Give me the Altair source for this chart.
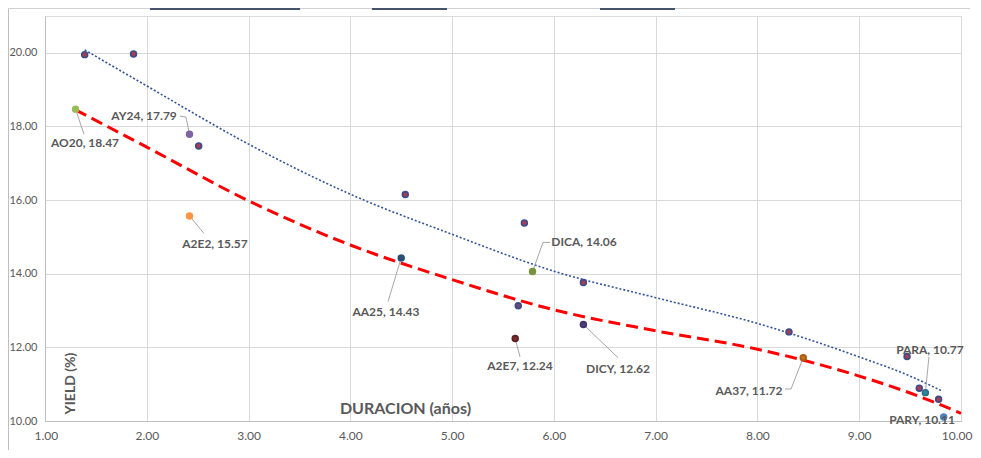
import altair as alt
import pandas as pd

# ---- bond points ----
names = ["", "", "AO20", "AY24", "", "A2E2", "", "AA25", "", "DICA", "",
         "A2E7", "", "DICY", "", "AA37", "", "", "PARA", "", "PARY"]
dur = [1.39, 1.87, 1.30, 2.42, 2.51, 2.42, 4.54, 4.50, 5.71, 5.79, 5.65,
       5.62, 6.29, 6.29, 8.31, 8.45, 9.47, 9.59, 9.65, 9.78, 9.83]
yld = [19.95, 19.97, 18.47, 17.79, 17.47, 15.57, 16.15, 14.43, 15.38, 14.06, 13.13,
       12.24, 13.76, 12.62, 12.42, 11.72, 11.75, 10.89, 10.77, 10.59, 10.11]
fills = ["#a83c55", "#a83c55", "#9bbb59", "#8064a2", "#a83c55", "#f79646", "#a83c55",
         "#2c4d75", "#a83c55", "#77933c", "#6a4a78", "#7f2a2a", "#a83c55", "#4d3b73",
         "#a83c55", "#c0711e", "#a83c55", "#a83c55", "#31859c", "#a83c55", "#4f81bd"]
strokes = ["#3b4c86", "#3b4c86", "#9bbb59", "#8064a2", "#3b4c86", "#f79646", "#3b4c86",
           "#2c4d75", "#3b4c86", "#77933c", "#3b4c86", "#5a2020", "#3b4c86", "#3f3368",
           "#3b4c86", "#a55a10", "#3b4c86", "#3b4c86", "#2a6f82", "#3b4c86", "#4f81bd"]

# ---- data labels ----
lab_text = ["AO20, 18.47", "AY24, 17.79", "A2E2, 15.57", "AA25, 14.43", "DICA, 14.06",
            "A2E7, 12.24", "DICY, 12.62", "AA37, 11.72", "PARA, 10.77", "PARY, 10.11"]
lab_x = [1.393, 1.973, 2.670, 4.350, 6.296, 5.667, 6.630, 7.917, 9.695, 9.617]
lab_y = [17.55, 18.28, 14.82, 12.97, 14.85, 11.50, 11.42, 10.82, 11.93, 10.02]

# leader lines (point -> label)
lead_id = ["AO20", "AO20", "AY24", "AY24", "AY24", "A2E2", "A2E2", "AA25", "AA25",
           "DICA", "DICA", "DICA", "A2E7", "A2E7", "DICY", "DICY",
           "AA37", "AA37", "AA37", "PARA", "PARA"]
lead_x = [1.30, 1.383, 2.42, 2.385, 2.326, 2.42, 2.562, 4.50, 4.370,
          5.79, 5.893, 5.962, 5.62, 5.667, 6.29, 6.630,
          8.45, 8.330, 8.271, 9.65, 9.685]
lead_y = [18.47, 17.79, 17.79, 18.256, 18.28, 15.57, 15.095, 14.43, 13.24,
          14.06, 14.85, 14.85, 12.24, 11.74, 12.62, 11.72,
          11.72, 10.87, 10.87, 10.77, 11.74]
lead_ord = [0, 1, 0, 1, 2, 0, 1, 0, 1, 0, 1, 2, 0, 1, 0, 1, 0, 1, 2, 0, 1]

# ---- trend lines ----
red_x = [1.30, 2.0, 3.0, 4.0, 5.0, 6.0, 7.0, 8.0, 9.0, 9.5, 10.0]
red_y = [18.45, 17.44, 15.98, 14.78, 13.84, 13.02, 12.45, 11.95, 11.22, 10.76, 10.21]
blue_x = [1.39, 2.0, 3.0, 4.0, 5.0, 6.0, 7.0, 8.0, 9.0, 9.5, 9.81]
blue_y = [20.08, 19.10, 17.52, 16.16, 15.07, 14.07, 13.35, 12.65, 11.74, 11.22, 10.82]

x_ticks = [1, 2, 3, 4, 5, 6, 7, 8, 9, 10]
y_ticks = [10, 12, 14, 16, 18, 20]

pts = pd.DataFrame({"name": names, "dur": dur, "yld": yld, "fill": fills, "stroke": strokes})
labs = pd.DataFrame({"text": lab_text, "lx": lab_x, "ly": lab_y})
leads = pd.DataFrame({"id": lead_id, "x": lead_x, "y": lead_y, "o": lead_ord})
red = pd.DataFrame({"x": red_x, "y": red_y})
blue = pd.DataFrame({"x": blue_x, "y": blue_y})

FONT = "Lato"
TXT = "#595959"

xs = alt.Scale(domain=[1, 10], nice=False, zero=False)
ys = alt.Scale(domain=[10, 21], nice=False, zero=False)

xaxis = alt.Axis(values=x_ticks, format=".2f", grid=True, gridColor="#d9d9d9", ticks=False,
                 domainColor="#bfbfbf", labelColor=TXT, labelFont=FONT, labelFontSize=12,
                 labelPadding=9, labelFlush=True, labelFlushOffset=11, labelOverlap=False,
                 title="DURACION (años)", titleFont=FONT, titleFontSize=16,
                 titleFontWeight="bold", titleColor=TXT, titleX=360, titleY=-13,
                 titleAlign="center", titleBaseline="middle")
yaxis = alt.Axis(values=y_ticks, format=".2f", grid=True, gridColor="#d9d9d9", ticks=False,
                 domainColor="#bfbfbf", labelColor=TXT, labelFont=FONT, labelFontSize=11,
                 labelPadding=8, labelFlush=False, labelOverlap=False,
                 title="YIELD (%)", titleFont=FONT, titleFontSize=14,
                 titleFontWeight="bold", titleColor=TXT, titleAngle=270, titleX=25, titleY=367,
                 titleAlign="center", titleBaseline="middle")

base_x = alt.X("x:Q", scale=xs, axis=xaxis)
base_y = alt.Y("y:Q", scale=ys, axis=yaxis)

blue_line = alt.Chart(blue).mark_line(color="#2f5597", strokeWidth=1.6, strokeDash=[2, 2],
                                      interpolate="monotone").encode(x=base_x, y=base_y)
red_line = alt.Chart(red).mark_line(color="#ff0000", strokeWidth=3, strokeDash=[12, 6],
                                    interpolate="monotone").encode(x="x:Q", y="y:Q")

leaders = alt.Chart(leads).mark_line(color="#a6a6a6", strokeWidth=1).encode(
    x="x:Q", y="y:Q", detail="id:N", order="o:Q")

points = alt.Chart(pts).mark_point(filled=True, size=34, strokeWidth=1.6, opacity=1).encode(
    x=alt.X("dur:Q"), y=alt.Y("yld:Q"),
    fill=alt.Fill("fill:N", scale=None), stroke=alt.Stroke("stroke:N", scale=None))

labels = alt.Chart(labs).mark_text(font=FONT, fontSize=12, fontWeight="bold", color=TXT,
                                   align="center", baseline="middle").encode(
    x="lx:Q", y="ly:Q", text="text:N")

# decorative frame remnants of the source sheet
frame_left = alt.Chart(pts).mark_rule(color="#bfbfbf", strokeWidth=1).encode(
    x=alt.value(-36.5), y=alt.value(-7.5), y2=alt.value(440))
frame_top = alt.Chart(pts).mark_rule(color="#d0d0d0", strokeWidth=1).encode(
    x=alt.value(-36.5), x2=alt.value(925), y=alt.value(-7.5))
seg_df = pd.DataFrame({"a": [105, 327, 555], "b": [255, 402, 630]})
frame_segs = alt.Chart(seg_df).mark_rule(color="#44546a", strokeWidth=2).encode(
    x=alt.X("a:Q", scale=None), x2="b:Q", y=alt.value(-7))

chart = alt.layer(blue_line, red_line, leaders, points, labels,
                  frame_left, frame_top, frame_segs).properties(
    width=916, height=405,
    autosize=alt.AutoSizeParams(type="none"),
    padding={"left": 37, "top": 8, "right": 12, "bottom": 29},
).configure_view(stroke=None).configure(background="white")

chart.save("out.html", embed_options={"renderer": "svg", "actions": False})
